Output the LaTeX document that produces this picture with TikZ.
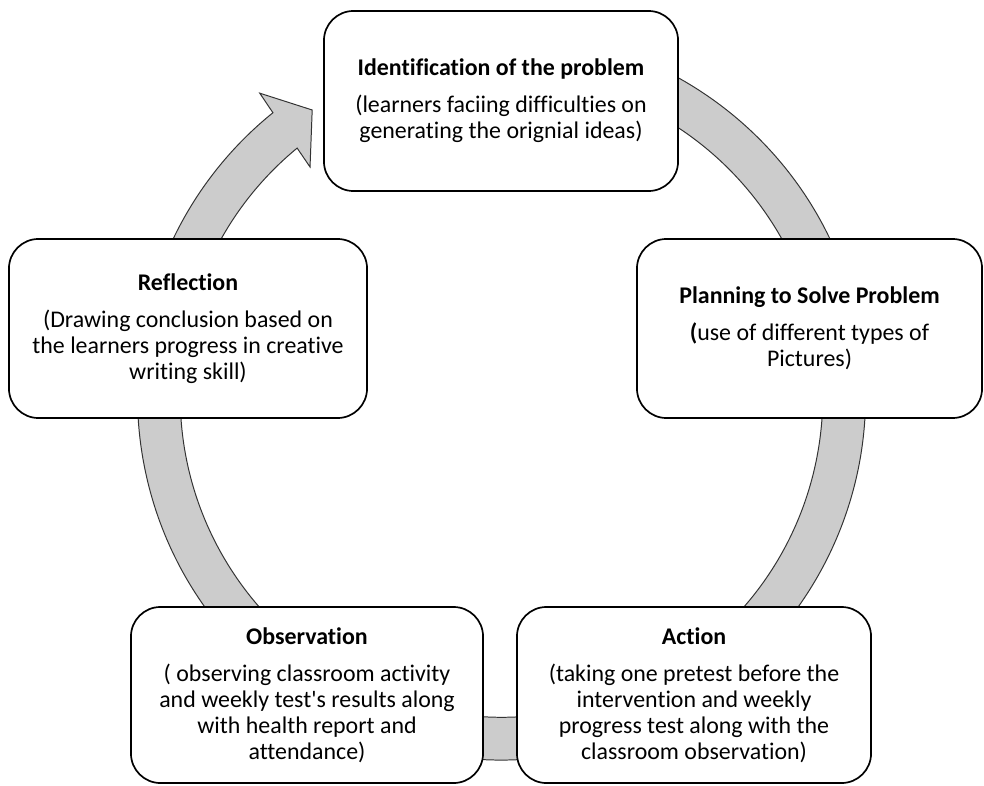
\documentclass[tikz,border=0pt]{standalone}
\usepackage{fontspec}
\setmainfont{Carlito}[Ligatures={TeXOff,CommonOff}]
\usepackage{tikz}
\usetikzlibrary{positioning}
\definecolor{ringgray}{HTML}{CCCCCC}
\definecolor{ringedge}{HTML}{333333}

\begin{document}
\begin{tikzpicture}[x=0.025cm,y=0.025cm,
  stage/.style={draw=black,line width=1.2pt,rounded corners=21pt,fill=white,align=center,
    font=\fontsize{17}{18.5}\selectfont,inner sep=4pt},
  ring/.style={fill=ringgray,draw=ringedge,line width=0.7pt,line join=miter}
]
\useasboundingbox (0,0) rectangle (984,785);

% the cycle arrow behind the boxes
\begin{scope}[shift={(501.5,389)}]
\filldraw[ring] (100:364) arc[start angle=100,end angle=-231.1,radius=364]
  -- (-231.4:387.5) -- (-236.5:343) -- (-230.1:298.5) -- (-230.5:321.3)
  arc[start angle=-230.5,end angle=100,radius=321.3] -- cycle;
\end{scope}

\node[stage,minimum width=8.85cm,minimum height=4.5cm] (ident) at (501,684)
  {\textbf{Identification of the problem}\\[8pt](learners faciing difficulties on\\generating the orignial ideas)};
\node[stage,minimum width=8.625cm,minimum height=4.475cm] (plan) at (809.5,456.5)
  {\textbf{Planning to Solve Problem}\\[8pt]\textbf{(}use of different types of\\Pictures)};
\node[stage,minimum width=8.85cm,minimum height=4.4cm] (act) at (694,90)
  {\textbf{Action}\\[8pt](taking one pretest before the\\intervention and weekly\\progress test along with the\\classroom observation)};
\node[stage,minimum width=8.8cm,minimum height=4.4cm] (obs) at (307,90)
  {\textbf{Observation}\\[8pt]( observing classroom activity\\and weekly test's results along\\with health report and\\attendance)};
\node[stage,minimum width=8.95cm,minimum height=4.475cm] (refl) at (188,456.5)
  {\textbf{Reflection}\\[8pt](Drawing conclusion based on\\the learners progress in creative\\writing skill)};
\end{tikzpicture}
\end{document}
